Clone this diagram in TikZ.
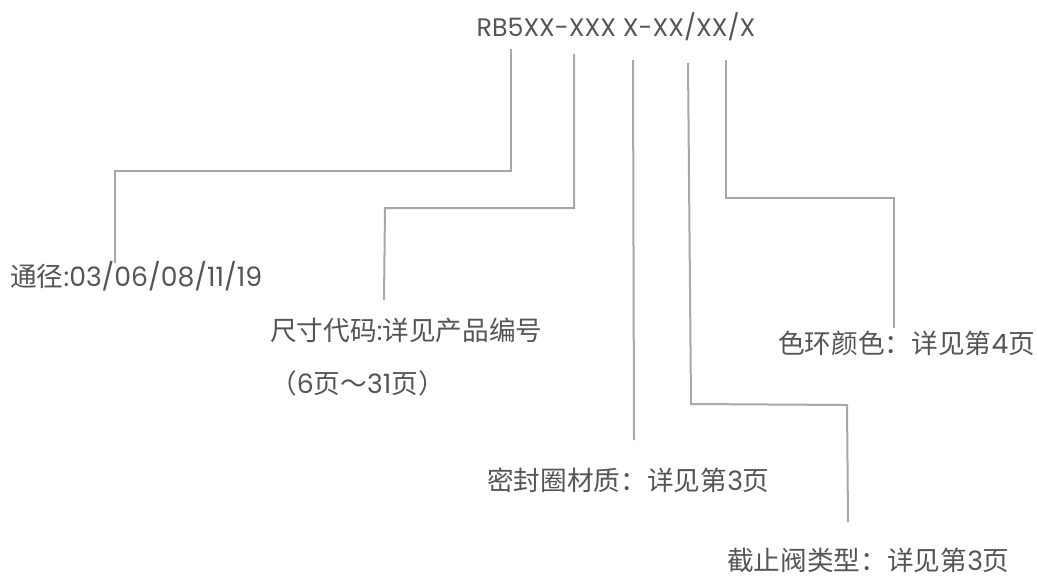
\documentclass[tikz,border=0pt]{standalone}
\usepackage{fontspec}
\setmainfont{Poppins}
\newfontfamily\cjk{Noto Sans CJK SC}
\newcommand{\lat}[1]{{\fontspec{Poppins}#1}}
\definecolor{txt}{HTML}{555555}
\definecolor{ln}{HTML}{A8A8A8}
\begin{document}
\begin{tikzpicture}[x=0.75pt,y=-0.75pt,
  lbl/.style={anchor=west,inner sep=0pt,text=txt,font=\fontsize{20pt}{24pt}\selectfont\cjk},
  conn/.style={draw=ln,line width=1.5pt}]
\useasboundingbox (0,0) rectangle (1037,585);
\node[inner sep=0pt,text=txt,font=\fontsize{19pt}{22pt}\selectfont] (title) at (616,27) {RB5XX-XXX X-XX/XX/X};
\node[lbl] (a) at (10,276) {通径\lat{:03/06/08/11/19}};
\node[lbl] (b) at (270,330) {尺寸代码\lat{:}详见产品编号};
\node[lbl] (b2) at (270,383) {（\lat{6}页～\lat{31}页）};
\node[lbl] (e) at (778,343) {色环颜色：详见第\lat{4}页};
\node[lbl] (c) at (487,480) {密封圈材质：详见第\lat{3}页};
\node[lbl] (d) at (727,560) {截止阀类型：详见第\lat{3}页};
\coordinate (t1) at (511,49);
\coordinate (t2) at (574,54);
\coordinate (t3) at (633,60);
\coordinate (t4) at (688,63);
\coordinate (t5) at (726,60);
\coordinate (e1) at (115,263);
\coordinate (e2) at (384,300);
\coordinate (e3) at (634,440);
\coordinate (e4) at (848,522);
\coordinate (e5) at (894,328);
\draw[conn] (t1) -- (511,171) -- (115,171) -- (e1);
\draw[conn] (t2) -- (574,208) -- (385,208) -- (e2);
\draw[conn] (t3) -- (e3);
\draw[conn] (t4) -- (691,404) -- (847,405) -- (e4);
\draw[conn] (t5) -- (726,198) -- (894,198) -- (e5);
\end{tikzpicture}
\end{document}
